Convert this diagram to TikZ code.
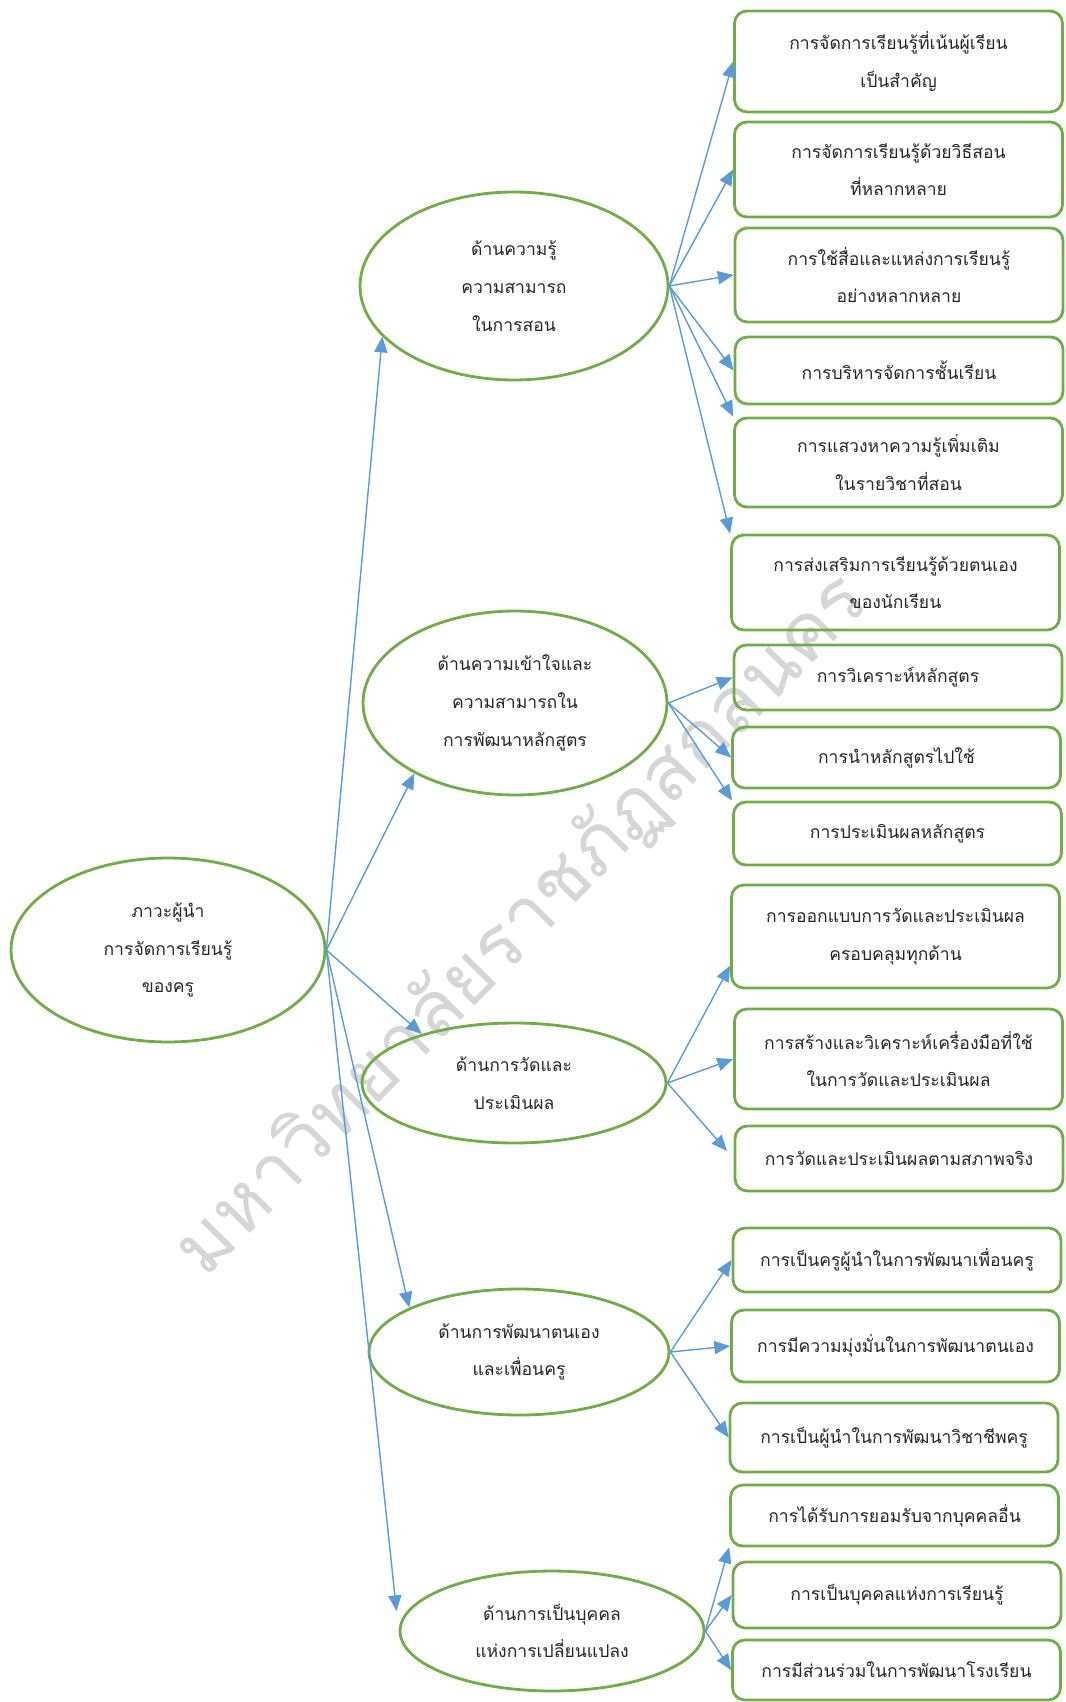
\documentclass[tikz,border=0pt]{standalone}
\usepackage{fontspec}
\newfontfamily\thaifont[Script=Thai]{Loma}
\usetikzlibrary{shapes.geometric,arrows.meta}
\definecolor{leafgreen}{HTML}{70AD47}
\definecolor{skyblue}{HTML}{5B9BD5}

\begin{document}
\begin{tikzpicture}[x=0.02cm,y=-0.02cm,
	txt/.style={font=\thaifont\fontsize{10}{21.5}\selectfont,align=center,text=black!85},
	topicoval/.style={txt,ellipse,draw=leafgreen,line width=1.6pt,inner sep=0pt},
	itembox/.style={txt,rectangle,rounded corners=7pt,draw=leafgreen,line width=1.6pt,minimum width=6.56cm,inner sep=0pt},
	linkarrow/.style={skyblue,line width=0.8pt,-{Triangle[length=9pt,width=7.5pt]}}]
	\useasboundingbox (0,0) rectangle (1065,1702);
	% watermark
	\node[font=\thaifont\fontsize{44}{44}\selectfont,text=gray!32,rotate=45.4] (mark) at (522,925) {มหาวิทยาลัยราชภัฏสกลนคร};
	% main topic and the five sides
	\node[topicoval,minimum width=6.28cm,minimum height=3.68cm] (root) at (168,950) {ภาวะผู้นำ\\การจัดการเรียนรู้\\ของครู};
	\node[topicoval,minimum width=6.16cm,minimum height=3.76cm] (e1) at (514,286) {ด้านความรู้\\ความสามารถ\\ในการสอน};
	\node[topicoval,minimum width=6.08cm,minimum height=3.68cm] (e2) at (515,703) {ด้านความเข้าใจและ\\ความสามารถใน\\การพัฒนาหลักสูตร};
	\node[topicoval,minimum width=6.08cm,minimum height=2.4cm] (e3) at (514,1083) {ด้านการวัดและ\\ประเมินผล};
	\node[topicoval,minimum width=6cm,minimum height=2.52cm] (e4) at (519,1352) {ด้านการพัฒนาตนเอง\\และเพื่อนครู};
	\node[topicoval,minimum width=6.08cm,minimum height=2.4cm] (e5) at (552,1631) {ด้านการเป็นบุคคล\\แห่งการเปลี่ยนแปลง};
	% items
	\node[itembox,minimum height=2.02cm] (b1) at (898.5,61.5) {การจัดการเรียนรู้ที่เน้นผู้เรียน\\เป็นสำคัญ};
	\node[itembox,minimum height=1.9cm] (b2) at (898.5,169.5) {การจัดการเรียนรู้ด้วยวิธีสอน\\ที่หลากหลาย};
	\node[itembox,minimum height=1.88cm] (b3) at (899,275) {การใช้สื่อและแหล่งการเรียนรู้\\อย่างหลากหลาย};
	\node[itembox,minimum height=1.34cm] (b4) at (899,370.5) {การบริหารจัดการชั้นเรียน};
	\node[itembox,minimum height=1.78cm] (b5) at (898.5,462.5) {การแสวงหาความรู้เพิ่มเติม\\ในรายวิชาที่สอน};
	\node[itembox,minimum height=1.9cm] (b6) at (895.5,582.5) {การส่งเสริมการเรียนรู้ด้วยตนเอง\\ของนักเรียน};
	\node[itembox,minimum height=1.3cm] (b7) at (898,677.5) {การวิเคราะห์หลักสูตร};
	\node[itembox,minimum height=1.22cm] (b8) at (896.5,757.5) {การนำหลักสูตรไปใช้};
	\node[itembox,minimum height=1.26cm] (b9) at (897.5,833.5) {การประเมินผลหลักสูตร};
	\node[itembox,minimum height=2.06cm] (b10) at (895.5,936.5) {การออกแบบการวัดและประเมินผล\\ครอบคลุมทุกด้าน};
	\node[itembox,minimum height=2cm] (b11) at (898.5,1059) {การสร้างและวิเคราะห์เครื่องมือที่ใช้\\ในการวัดและประเมินผล};
	\node[itembox,minimum height=1.3cm] (b12) at (899,1158.5) {การวัดและประเมินผลตามสภาพจริง};
	\node[itembox,minimum height=1.28cm] (b13) at (897,1260) {การเป็นครูผู้นำในการพัฒนาเพื่อนครู};
	\node[itembox,minimum height=1.44cm] (b14) at (895.5,1346) {การมีความมุ่งมั่นในการพัฒนาตนเอง};
	\node[itembox,minimum height=1.38cm] (b15) at (894,1437.5) {การเป็นผู้นำในการพัฒนาวิชาชีพครู};
	\node[itembox,minimum height=1.22cm] (b16) at (894.5,1515.5) {การได้รับการยอมรับจากบุคคลอื่น};
	\node[itembox,minimum height=1.32cm] (b17) at (897,1595) {การเป็นบุคคลแห่งการเรียนรู้};
	\node[itembox,minimum height=1.2cm] (b18) at (896.5,1670) {การมีส่วนร่วมในการพัฒนาโรงเรียน};
	% arrows from the main topic
	\draw[linkarrow] (root.east) -- (e1.201);
	\draw[linkarrow] (root.east) -- (e2.215);
	\draw[linkarrow] (root.east) -- (e3.152);
	\draw[linkarrow] (root.east) -- (e4.158);
	\draw[linkarrow,shorten >=0.4cm] (root.east) -- (e5.west);
	% arrows to the items
	\draw[linkarrow] (e1.east) -- (b1.west);
	\draw[linkarrow] (e1.east) -- (b2.west);
	\draw[linkarrow] (e1.east) -- (b3.west);
	\draw[linkarrow] (e1.east) -- (b4.west);
	\draw[linkarrow] (e1.east) -- (b5.north west);
	\draw[linkarrow] (e1.east) -- (b6.north west);
	\draw[linkarrow] (e2.east) -- (b7.west);
	\draw[linkarrow] (e2.east) -- (b8.west);
	\draw[linkarrow] (e2.east) -- (b9.north west);
	\draw[linkarrow] (e3.east) -- (b10.190);
	\draw[linkarrow] (e3.east) -- (b11.west);
	\draw[linkarrow,shorten >=0.2cm] (e3.east) -- (b12.west);
	\draw[linkarrow] (e4.east) -- (b13.west);
	\draw[linkarrow] (e4.east) -- (b14.west);
	\draw[linkarrow] (e4.east) -- (b15.west);
	\draw[linkarrow] (e5.east) -- (b16.south west);
	\draw[linkarrow] (e5.east) -- (b17.west);
	\draw[linkarrow] (e5.east) -- (b18.west);
\end{tikzpicture}
\end{document}
